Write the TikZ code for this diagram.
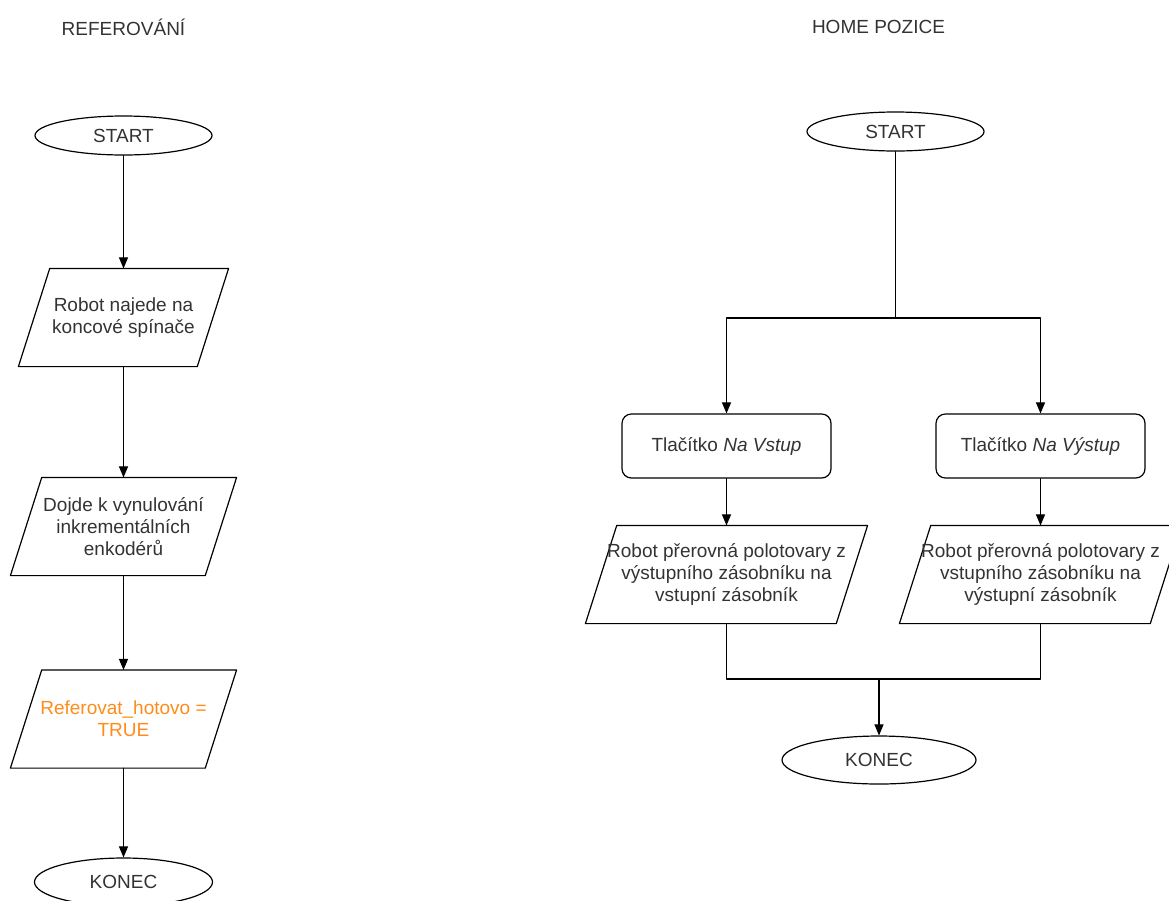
\documentclass[tikz,border=0pt]{standalone}
\usepackage{fontspec}
\setmainfont{Liberation Sans}
\usepackage{xcolor}
\usetikzlibrary{arrows}
\usetikzlibrary{shapes.geometric}
\definecolor{txtgray}{RGB}{51,51,51}
\definecolor{refor}{RGB}{255,140,26}
\newcommand{\txtfont}{\fontsize{14.25}{16.5}\selectfont}

\begin{document}
\begin{tikzpicture}[line cap=round,line join=round,>=triangle 45,x=0.75pt,y=-0.75pt,line width=0.9pt,
  every node/.style={font=\txtfont,text=txtgray,align=center},
  term/.style={draw,ellipse,inner sep=0pt,minimum width=132.75pt,minimum height=29.25pt},
  io/.style={inner sep=0pt,minimum height=72.75pt,
    append after command={\pgfextra{\draw ([xshift=23.5pt]\tikzlastnode.north west) -- (\tikzlastnode.north east)
      -- ([xshift=-23.5pt]\tikzlastnode.south east) -- (\tikzlastnode.south west) -- cycle;}}},
  btn/.style={draw,rectangle,rounded corners=7pt,minimum width=156.75pt,minimum height=48pt}]
\useasboundingbox (0,0) rectangle (1169,900);
%\draw[help lines] (0,0) grid[step=100] (1169,900);

% REFEROVANI
\node (titL) at (123.5,27) {REFEROVÁNÍ};
\node[term] (startL) at (123.5,135.5) {START};
\node[io,minimum width=156.75pt] (najezd) at (123.5,317.5) {Robot najede na\\koncové spínače};
\node[io,minimum width=168.75pt] (nulovani) at (123.5,526.5) {Dojde k vynulování\\inkrementálních\\enkodérů};
\node[io,minimum width=168.75pt,text=refor] (hotovo) at (123.5,719) {Referovat\_hotovo =\\TRUE};
\node[term,minimum width=133.5pt,minimum height=36pt] (konecL) at (123.5,882) {KONEC};

\draw[->] (startL) -- (najezd);
\draw[->] (najezd) -- (nulovani);
\draw[->] (nulovani) -- (hotovo);
\draw[->] (hotovo) -- (konecL);

% HOME POZICE
\node (titR) at (878.5,27) {HOME POZICE};
\node[term] (startR) at (895.5,131.5) {START};
\coordinate (split) at (895.5,318);
\node[btn] (vstup) at (726.5,446) {Tlačítko \textit{Na Vstup}};
\node[btn] (vystup) at (1040.5,446) {Tlačítko \textit{Na Výstup}};
\node[io,minimum width=210.75pt] (presunA) at (726.5,574.5) {Robot přerovná polotovary z\\výstupního zásobníku na\\vstupní zásobník};
\node[io,minimum width=210.75pt] (presunB) at (1040.5,574.5) {Robot přerovná polotovary z\\vstupního zásobníku na\\výstupní zásobník};
\coordinate (merge) at (879,679);
\node[term,minimum width=145.5pt,minimum height=36pt] (konecR) at (879,760) {KONEC};

\draw (startR) -- (split);
\draw[->] (split) -| (vstup);
\draw[->] (split) -| (vystup);
\draw[->] (vstup) -- (presunA);
\draw[->] (vystup) -- (presunB);
\draw (presunA) |- (merge);
\draw (presunB) |- (merge);
\draw[->] (merge) -- (konecR);

\end{tikzpicture}
\end{document}
